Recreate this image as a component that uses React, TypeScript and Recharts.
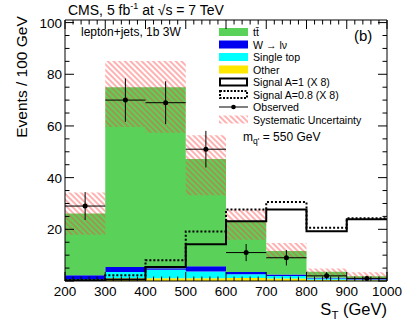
import React from "react";
import { ComposedChart, Area, Line, Scatter, ErrorBar, XAxis, YAxis } from "recharts";

// S_T bins (GeV)
const binEdges = [200, 300, 400, 500, 600, 700, 800, 900, 1000];
const binCenters = [250, 350, 450, 550, 650, 750, 850, 950];

// stacked backgrounds, events / 100 GeV
const ttbar = [23.9, 69.6, 70.1, 41.5, 19.6, 9.1, 2.3, 0.8];
const wjets = [1.4, 1.9, 0.5, 2.0, 0.9, 0.6, 0.3, 0.4];
const singleTop = [0.6, 2.4, 3.3, 2.6, 1.4, 0.9, 0.5, 0.3];
const other = [0.2, 1.1, 1.1, 1.1, 1.2, 1.0, 0.5, 0.3];

// systematic band around the stack
const systLow = [17.9, 59.6, 57.4, 33.2, 16.0, 8.7, 1.6, 0.6];
const systHigh = [34.2, 85.1, 85.1, 56.4, 27.7, 14.7, 4.8, 3.4];

// signal (x8)
const signalA1 = [0.3, 0.6, 5.4, 14.2, 23.1, 27.7, 19.3, 23.9];
const signalA08 = [0.4, 2.2, 8.0, 19.2, 27.7, 30.6, 20.6, 24.3];

// data
const observed = [29, 70, 69, 51, 11, 9, 2, 1];
const observedErr = [5.4, 8.4, 8.3, 7.1, 3.3, 3.0, 1.4, 1.0];
const halfBin = 50;

const xMajor = [200, 300, 400, 500, 600, 700, 800, 900, 1000];
const xMinor = [
  200, 220, 240, 260, 280, 300, 320, 340, 360, 380, 400, 420, 440, 460, 480, 500, 520, 540, 560, 580,
  600, 620, 640, 660, 680, 700, 720, 740, 760, 780, 800, 820, 840, 860, 880, 900, 920, 940, 960, 980, 1000,
];
const yMajor = [0, 20, 40, 60, 80, 100];
const yMinor = [0, 5, 10, 15, 20, 25, 30, 35, 40, 45, 50, 55, 60, 65, 70, 75, 80, 85, 90, 95, 100];

const GREEN = "#5ad25a";
const BLUE = "#0000f0";
const CYAN = "#00ffff";
const YELLOW = "#ffe800";
const FONT = "'Liberation Sans', Arial, sans-serif";

// histogram rows at bin edges; last edge repeats last bin so the step closes at 1000
const histRows = binEdges.map((x, i) => {
  const b = Math.min(i, ttbar.length - 1);
  return {
    x,
    other: other[b],
    singleTop: singleTop[b],
    wjets: wjets[b],
    ttbar: ttbar[b],
    syst: [systLow[b], systHigh[b]],
    sigA1: signalA1[b],
    sigA08: signalA08[b],
  };
});

const obsRows = binCenters.map((x, i) => ({ x, y: observed[i], ex: halfBin, ey: observedErr[i] }));

const BottomTick = (props: any) => {
  const { x, y, payload } = props;
  const major = xMajor.includes(payload.value);
  return (
    <g>
      <line x1={x} x2={x} y1={y} y2={y - (major ? 9 : 4.5)} stroke="#000" />
      {major && (
        <text x={x} y={y + 15} textAnchor="middle" fontSize={13.5} fontFamily={FONT} fill="#000">
          {payload.value}
        </text>
      )}
    </g>
  );
};

const TopTick = (props: any) => {
  const { x, y, payload } = props;
  const major = xMajor.includes(payload.value);
  return <line x1={x} x2={x} y1={y} y2={y + (major ? 9 : 4.5)} stroke="#000" />;
};

const LeftTick = (props: any) => {
  const { x, y, payload } = props;
  const major = yMajor.includes(payload.value);
  return (
    <g>
      <line x1={x} x2={x + (major ? 9 : 4.5)} y1={y} y2={y} stroke="#000" />
      {major && payload.value !== 0 && (
        <text x={x - 3} y={y + 5} textAnchor="end" fontSize={13.5} fontFamily={FONT} fill="#000">
          {payload.value}
        </text>
      )}
    </g>
  );
};

const RightTick = (props: any) => {
  const { x, y, payload } = props;
  const major = yMajor.includes(payload.value);
  return <line x1={x} x2={x - (major ? 9 : 4.5)} y1={y} y2={y} stroke="#000" />;
};

const Dot = (props: any) => <circle cx={props.cx} cy={props.cy} r={2.5} fill="#000" />;

const legendItems = [
  { label: "tt\u0304", kind: "fill", color: GREEN },
  { label: "W \u2192 l\u03bd", kind: "fill", color: BLUE },
  { label: "Single top", kind: "fill", color: CYAN },
  { label: "Other", kind: "fill", color: YELLOW },
  { label: "Signal A=1 (X 8)", kind: "solid" },
  { label: "Signal A=0.8 (X 8)", kind: "dotted" },
  { label: "Observed", kind: "marker" },
  { label: "Systematic Uncertainty", kind: "hatch" },
];

function LegendBlock() {
  const x0 = 219;
  const w = 29;
  return (
    <g fontFamily={FONT} fontSize={10.6} fill="#000">
      {legendItems.map((it, i) => {
        const cy = 32 + i * 12.5;
        let sym: React.ReactNode = null;
        if (it.kind === "fill") sym = <rect x={x0} y={cy - 4} width={w} height={8} fill={it.color} />;
        if (it.kind === "solid")
          sym = <rect x={x0 + 1} y={cy - 3.5} width={w - 2} height={7} fill="#fff" stroke="#000" strokeWidth={2} />;
        if (it.kind === "dotted")
          sym = (
            <rect x={x0 + 1} y={cy - 3.5} width={w - 2} height={7} fill="#fff" stroke="#000" strokeWidth={2} strokeDasharray="2 1.5" />
          );
        if (it.kind === "marker")
          sym = (
            <g>
              <line x1={x0} x2={x0 + w} y1={cy} y2={cy} stroke="#000" />
              <circle cx={x0 + w / 2} cy={cy} r={2.3} fill="#000" />
            </g>
          );
        if (it.kind === "hatch") sym = <rect x={x0} y={cy - 4} width={w} height={8} fill="url(#systHatch)" />;
        return (
          <g key={it.label}>
            {sym}
            <text x={253} y={cy + 4}>{it.label}</text>
          </g>
        );
      })}
    </g>
  );
}

export default function App() {
  return (
    <div style={{ position: "absolute", left: 0, top: 0, width: 407, height: 323, background: "#fff" }}>
      <ComposedChart width={407} height={323} data={histRows} margin={{ top: 19, right: 19, bottom: 41, left: 64 }}>
        <defs>
          <pattern id="systHatch" patternUnits="userSpaceOnUse" width={4} height={10} patternTransform="rotate(-45)">
            <line x1={1} x2={1} y1={0} y2={10} stroke="#ff4040" strokeWidth={1.1} strokeOpacity={0.75} />
          </pattern>
        </defs>

        <Area type="stepAfter" dataKey="other" stackId="bg" fill={YELLOW} fillOpacity={1} stroke="none" isAnimationActive={false} />
        <Area type="stepAfter" dataKey="singleTop" stackId="bg" fill={CYAN} fillOpacity={1} stroke="none" isAnimationActive={false} />
        <Area type="stepAfter" dataKey="wjets" stackId="bg" fill={BLUE} fillOpacity={1} stroke="none" isAnimationActive={false} />
        <Area type="stepAfter" dataKey="ttbar" stackId="bg" fill={GREEN} fillOpacity={1} stroke="none" isAnimationActive={false} />
        <Area type="stepAfter" dataKey="syst" fill="url(#systHatch)" fillOpacity={1} stroke="none" isAnimationActive={false} />

        <Line type="stepAfter" dataKey="sigA08" stroke="#000" strokeWidth={2} strokeDasharray="2 2" dot={false} isAnimationActive={false} />
        <Line type="stepAfter" dataKey="sigA1" stroke="#000" strokeWidth={2} dot={false} isAnimationActive={false} />

        <Scatter data={obsRows} dataKey="y" shape={Dot} isAnimationActive={false}>
          <ErrorBar dataKey="ey" direction="y" width={0} stroke="#000" strokeWidth={1} />
          <ErrorBar dataKey="ex" direction="x" width={0} stroke="#000" strokeWidth={1} />
        </Scatter>

        <XAxis
          dataKey="x"
          type="number"
          domain={[200, 1000]}
          allowDataOverflow
          ticks={xMinor}
          interval={0}
          height={1}
          tickSize={0}
          tickMargin={0}
          tickLine={false}
          tick={BottomTick}
          axisLine={{ stroke: "#000" }}
        />
        <XAxis
          xAxisId="top"
          orientation="top"
          dataKey="x"
          type="number"
          domain={[200, 1000]}
          allowDataOverflow
          ticks={xMinor}
          interval={0}
          height={1}
          tickSize={0}
          tickMargin={0}
          tickLine={false}
          tick={TopTick}
          axisLine={{ stroke: "#000" }}
        />
        <YAxis
          type="number"
          domain={[0, 101]}
          allowDataOverflow
          ticks={yMinor}
          interval={0}
          width={1}
          tickSize={0}
          tickMargin={0}
          tickLine={false}
          tick={LeftTick}
          axisLine={{ stroke: "#000" }}
        />
        <YAxis
          yAxisId="right"
          orientation="right"
          type="number"
          domain={[0, 101]}
          allowDataOverflow
          ticks={yMinor}
          interval={0}
          width={1}
          tickSize={0}
          tickMargin={0}
          tickLine={false}
          tick={RightTick}
          axisLine={{ stroke: "#000" }}
        />

        <g fontFamily={FONT} fill="#000">
          <text x={68} y={15} fontSize={14}>
            CMS, 5 fb<tspan dy={-6} fontSize={9}>-1</tspan>
            <tspan dy={6}> at √s = 7 TeV</tspan>
          </text>
          <text x={81} y={36} fontSize={12}>lepton+jets, 1b 3W</text>
          <text x={354} y={41} fontSize={15}>(b)</text>
          <text x={243} y={141} fontSize={12}>
            m<tspan dy={3} fontSize={8.5}>q'</tspan>
            <tspan dy={-3}> = 550 GeV</tspan>
          </text>
          <text x={387} y={315} fontSize={16.5} textAnchor="end">
            S<tspan dy={4} fontSize={11.5}>T</tspan>
            <tspan dy={-4}> (GeV)</tspan>
          </text>
          <text x={27} y={77} fontSize={15.5} textAnchor="middle" transform="rotate(-90 27 77)">
            Events / 100 GeV
          </text>
        </g>
        <LegendBlock />
      </ComposedChart>
    </div>
  );
}
